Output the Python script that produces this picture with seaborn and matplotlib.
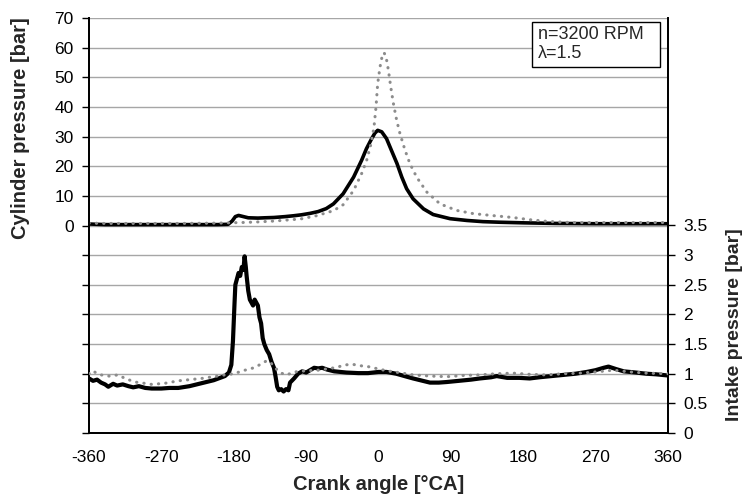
import numpy as np
import pandas as pd
import matplotlib
matplotlib.use("Agg")
import matplotlib.pyplot as plt
from matplotlib.patches import Rectangle
import seaborn as sns

# ---- data ----
cyl_solid_angle = [-360, -340, -300, -250, -200, -187, -182, -178, -174, -168, -162, -150, -141, -130,
                   -116, -105, -96, -85, -75, -65, -56, -44, -31, -21, -15, -8.5, -4.4, -1, 4, 10,
                   16, 23, 29, 35, 43, 56, 68, 89, 110, 130, 151, 180, 220, 270, 320, 360]
cyl_solid_p = [0.5, 0.3, 0.3, 0.3, 0.3, 0.4, 1.5, 3.0, 3.4, 3.0, 2.6, 2.5, 2.6, 2.7,
               3.0, 3.3, 3.6, 4.1, 4.7, 5.7, 7.3, 10.7, 16.3, 22.0, 25.9, 29.3, 31.2, 32.1, 31.6, 29.3,
               25.4, 20.9, 16.3, 12.4, 9.0, 5.6, 3.7, 2.3, 1.7, 1.3, 1.1, 0.9, 0.7, 0.6, 0.6, 0.6]

cyl_dot_angle = [-360, -340, -300, -250, -200, -187, -170, -150, -130, -116, -97, -77, -56, -44, -31,
                 -21, -14.7, -9.3, -5.6, -3.1, -1, 1.9, 4.8, 6.9, 9.4, 12.3, 15.2, 18.5, 22.6, 26.7,
                 33, 39, 47.5, 60, 76.5, 97, 118, 140, 167, 190, 210, 240, 280, 320, 360]
cyl_dot_p = [0.8, 0.7, 0.7, 0.7, 0.8, 0.9, 1.0, 1.2, 1.5, 1.8, 2.2, 3.3, 5.0, 7.0, 11.8,
             17.5, 22.0, 27.6, 33.2, 40.0, 47.9, 53.5, 57.5, 58.3, 56.9, 52.4, 46.8, 41.2, 35.5, 31.0,
             25.4, 20.9, 16.3, 11.3, 7.3, 5.1, 4.0, 3.4, 2.7, 1.9, 1.4, 1.0, 1.0, 1.0, 1.0]

int_solid_angle = [-360, -355, -350, -345, -340, -336, -330, -325, -318, -311, -305, -298, -290, -282,
                   -270, -260, -249, -235, -220, -205, -191, -186, -183, -181, -179, -178, -176, -174,
                   -172, -170, -168, -166.5, -165, -164, -162, -160, -158, -156, -154, -152, -150, -148,
                   -146, -144, -142, -139, -136, -133, -130, -128, -126, -124, -121, -118, -115, -112,
                   -110, -105, -100, -95, -90, -85, -80, -75, -70, -64, -55, -40, -25, -13, 0, 10, 22,
                   35, 43, 55, 64, 75, 85, 100, 115, 126, 140, 147, 160, 175, 188, 200, 215, 230, 245,
                   259, 270, 280, 286, 295, 305, 320, 333, 345, 360]
int_solid_p = [0.92, 0.88, 0.90, 0.85, 0.82, 0.78, 0.83, 0.80, 0.82, 0.79, 0.77, 0.79, 0.76, 0.75,
               0.75, 0.76, 0.76, 0.79, 0.84, 0.89, 0.96, 1.02, 1.15, 1.55, 2.20, 2.50, 2.60, 2.70,
               2.65, 2.80, 2.75, 2.98, 2.80, 2.65, 2.40, 2.25, 2.20, 2.15, 2.25, 2.20, 2.15, 1.95,
               1.85, 1.60, 1.50, 1.40, 1.33, 1.20, 1.10, 0.95, 0.78, 0.72, 0.74, 0.70, 0.74, 0.72,
               0.85, 0.92, 1.00, 1.04, 1.02, 1.06, 1.10, 1.09, 1.10, 1.07, 1.04, 1.02, 1.01, 1.01, 1.03, 1.03, 1.00,
               0.95, 0.92, 0.88, 0.85, 0.85, 0.86, 0.88, 0.90, 0.92, 0.94, 0.96, 0.93, 0.93, 0.92, 0.94, 0.96, 0.98, 1.00,
               1.03, 1.06, 1.10, 1.12, 1.08, 1.04, 1.02, 1.00, 0.99, 0.97]

int_dot_angle = [-360, -355, -350, -345, -335, -324, -315, -303, -292, -282, -265, -249, -235, -220,
                 -205, -191, -180, -166, -155, -145, -139, -133, -128, -122, -116, -110, -104, -90,
                 -75, -55, -40, -33, -20, -13, 0, 10, 25, 43, 65, 85, 105, 126, 147, 167, 188, 208,
                 230, 250, 270, 292, 313, 333, 360]
int_dot_p = [1.00, 1.05, 1.00, 0.98, 0.96, 0.98, 0.92, 0.86, 0.84, 0.82, 0.84, 0.88, 0.90, 0.92,
             0.95, 0.98, 1.00, 1.06, 1.10, 1.17, 1.22, 1.17, 1.09, 1.02, 0.98, 1.00, 1.03, 1.05,
             1.06, 1.10, 1.15, 1.16, 1.13, 1.12, 1.08, 1.05, 1.02, 0.98, 0.96, 0.95, 0.97, 0.98, 1.00, 1.01, 0.99, 0.98,
             1.00, 1.01, 1.03, 1.06, 1.03, 1.01, 1.00]

x_ticks = [-360, -270, -180, -90, 0, 90, 180, 270, 360]
left_ticks = [0, 10, 20, 30, 40, 50, 60, 70]
right_ticks = [0, 0.5, 1, 1.5, 2, 2.5, 3, 3.5]
annotation = "n=3200 RPM\nλ=1.5"

# ---- style ----
sns.set_style("white")
plt.rcParams["font.family"] = ["Liberation Sans", "DejaVu Sans"]

TICK_FS = 12.5
LABEL_FS = 14.5

fig = plt.figure(figsize=(7.48, 5.0), dpi=100)
ax = fig.add_axes([89 / 748, 67 / 500, 579 / 748, 415 / 500])
ax2 = ax.twinx()

# gridlines (left axis, full range)
for g in range(-70, 71, 10):
    ax.axhline(g, color="#A6A6A6", lw=1.0, zorder=0)

df_cs = pd.DataFrame({"angle": cyl_solid_angle, "p": cyl_solid_p})
df_cd = pd.DataFrame({"angle": cyl_dot_angle, "p": cyl_dot_p})
df_is = pd.DataFrame({"angle": int_solid_angle, "p": int_solid_p})
df_id = pd.DataFrame({"angle": int_dot_angle, "p": int_dot_p})

sns.lineplot(data=df_cs, x="angle", y="p", ax=ax, color="black", lw=2.6,
             sort=False, estimator=None, zorder=3)
sns.lineplot(data=df_cd, x="angle", y="p", ax=ax, color="#8C8C8C", lw=2.2,
             linestyle=(0, (0.1, 2.3)), dash_capstyle="round", sort=False, estimator=None, zorder=4)
sns.lineplot(data=df_is, x="angle", y="p", ax=ax2, color="black", lw=3.0,
             sort=False, estimator=None, zorder=3)
sns.lineplot(data=df_id, x="angle", y="p", ax=ax2, color="#8C8C8C", lw=2.2,
             linestyle=(0, (0.1, 2.3)), dash_capstyle="round", sort=False, estimator=None, zorder=4)

ax.set_xlim(-360, 360)
ax.set_ylim(-70, 70)
ax2.set_ylim(0, 7)

ax.set_xticks(x_ticks)
ax.set_xticklabels([str(t) for t in x_ticks], fontsize=TICK_FS)
ax.set_yticks(list(range(-70, 71, 10)))
ax.set_yticklabels([str(t) if t in left_ticks else "" for t in range(-70, 71, 10)], fontsize=TICK_FS)
ax2.set_yticks(right_ticks)
ax2.set_yticklabels([("%g" % t) for t in right_ticks], fontsize=TICK_FS)

for a in (ax, ax2):
    a.tick_params(axis="both", direction="out", length=5, width=1, color="black",
                  labelcolor="black", pad=6)
    a.spines["top"].set_visible(False)
    for s in ("left", "right", "bottom"):
        a.spines[s].set_color("black")
        a.spines[s].set_linewidth(1.3)
ax.tick_params(axis="x", colors="#A6A6A6", labelcolor="black", pad=7)

ax.set_xlabel("Crank angle [°CA]", fontsize=LABEL_FS, fontweight="bold")
ax.xaxis.set_label_coords(0.5, -0.1)
ax.set_ylabel("Cylinder pressure [bar]", fontsize=LABEL_FS, fontweight="bold")
ax.yaxis.set_label_coords(-0.102, 0.735)
ax2.set_ylabel("Intake pressure [bar]", fontsize=14, fontweight="bold")
ax2.yaxis.set_label_coords(1.1, 0.26)

# annotation box
ax.add_patch(Rectangle((0.765, 0.882), 0.221, 0.108, transform=ax.transAxes,
                       fc="white", ec="black", lw=1.0, zorder=6))
ax.text(0.776, 0.981, annotation, transform=ax.transAxes, fontsize=13, va="top", ha="left",
        linespacing=1.2, zorder=7)

fig.savefig("out.png", dpi=100)
